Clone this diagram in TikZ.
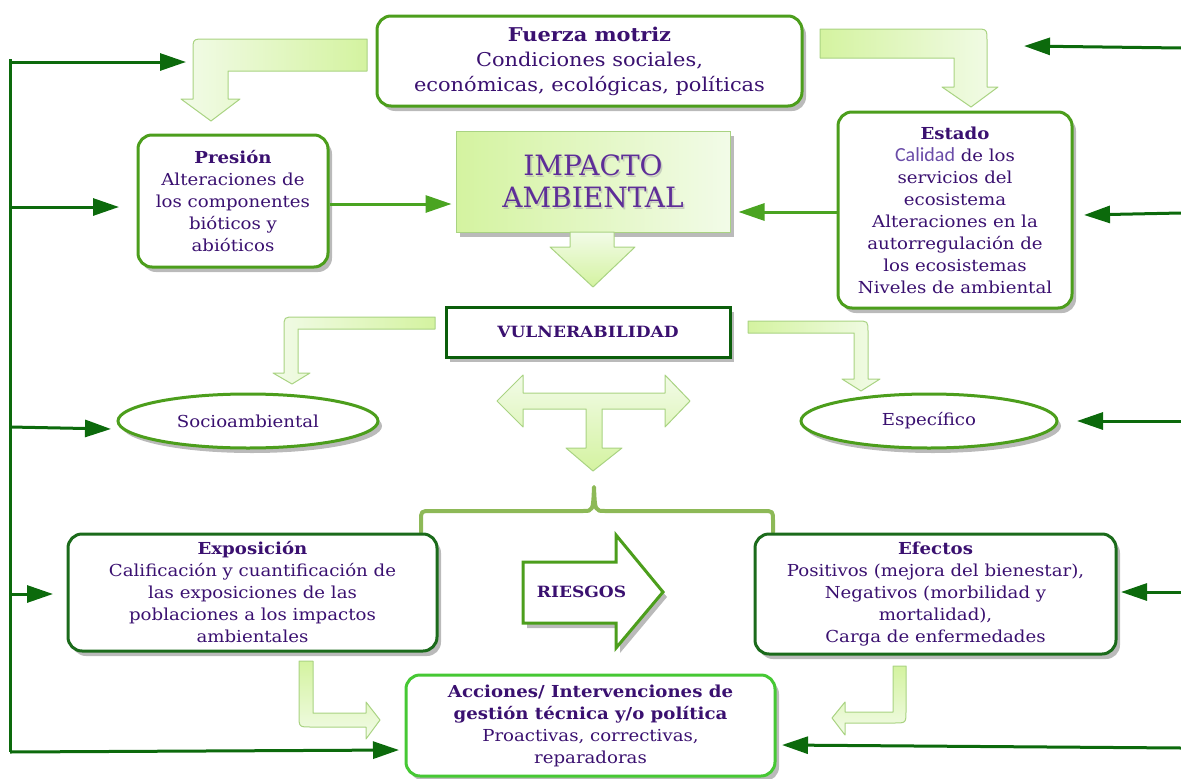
\documentclass[tikz,border=0pt]{standalone}
\usepackage{fontspec}
\setmainfont{DejaVu Serif}[FakeStretch=1.1]
\newfontfamily\impfont{DejaVu Serif}
\newfontfamily\calfont{Carlito}
\usetikzlibrary{arrows.meta,shapes.geometric,shadows,calc}
\definecolor{txt}{HTML}{3A1070}
\definecolor{gmid}{HTML}{4C9E1C}
\definecolor{gdark}{HTML}{1B6B1B}
\definecolor{gvul}{HTML}{0B5E0B}
\definecolor{gbright}{HTML}{46C834}
\definecolor{garr}{HTML}{0C6A0C}
\definecolor{garr2}{HTML}{4AA421}
\definecolor{lgA}{HTML}{D4F3A0}
\definecolor{lgB}{HTML}{F2FBE8}
\definecolor{lgedge}{HTML}{A9D382}
\definecolor{bracec}{HTML}{8DB957}
\definecolor{impt}{HTML}{5E2E98}
\definecolor{calc}{HTML}{6A4CA8}
\begin{document}
\begin{tikzpicture}[x=1pt,y=-1pt,
  shadowed/.style={drop shadow={shadow xshift=4pt,shadow yshift=-5pt,opacity=0.45,fill=black!60}},
  box/.style={draw=gmid,line width=3pt,rounded corners=14pt,fill=white,shadowed,
    align=center,text=txt,inner sep=0pt,font=\fontsize{16.5}{22}\selectfont},
  oval/.style={ellipse,draw=gmid,line width=3pt,fill=white,shadowed,text=txt,inner sep=0pt,
    font=\fontsize{16.5}{20}\selectfont},
  bigarrow/.style={draw=lgedge,line width=1pt,line join=round},
  garrow/.style={draw=garr,line width=3pt,-{Triangle[length=26pt,width=17pt]}},
  garrowB/.style={draw=garr2,line width=3pt,-{Triangle[length=26pt,width=17pt]}},
  gline/.style={draw=garr,line width=3pt},
]
\useasboundingbox (0,0) rectangle (1181,779);

% ---------- top nodes ----------
\node[box,minimum width=425,minimum height=90,font=\fontsize{19}{25}\selectfont] (fuerza) at (589.5,61)
  {\textbf{Fuerza motriz}\\Condiciones sociales,\\económicas, ecológicas, políticas};
\node[box,minimum width=190,minimum height=132] (presion) at (233,201)
  {\textbf{Presión}\\Alteraciones de\\los componentes\\bióticos y\\abióticos};
\node[box,minimum width=234,minimum height=196] (estado) at (955,210)
  {\textbf{Estado}\\{\calfont\fontsize{20}{22}\selectfont\color{calc}Calidad} de los\\servicios del\\ecosistema\\Alteraciones en la\\autorregulación de\\los ecosistemas\\Niveles de ambiental};

% impacto box
\node[draw=lgedge,line width=1pt,left color=lgA,right color=lgB,shadowed,
  minimum width=274,minimum height=101,inner sep=0pt] (impacto) at (593,181.5) {};
\node[text=black!35,opacity=0.5,align=center,font=\impfont\fontsize{28}{32}\selectfont] at ($(impacto)+(1.5,2)$) {IMPACTO\\AMBIENTAL};
\node[text=impt,align=center,font=\impfont\fontsize{28}{32}\selectfont] (imptext) at (impacto) {IMPACTO\\AMBIENTAL};

% down arrow under impacto
\shadedraw[bigarrow,top color=lgB,bottom color=lgA]
  (570,232) -- (614,232) -- (614,247) -- (635,247) -- (593,287) -- (550,247) -- (570,247) -- cycle;

% top bent arrows
\shadedraw[bigarrow,left color=lgB,right color=lgA]
  (367,39) -- (205,39) .. controls (193,39) .. (193,51) -- (193,99) -- (181,99) -- (211,121)
  -- (240,99) -- (228,99) -- (228,71) -- (367,71) -- cycle;
\shadedraw[bigarrow,left color=lgA,right color=lgB]
  (820,29) -- (975,29) .. controls (987,29) .. (987,41) -- (987,87) -- (998,87) -- (971,107)
  -- (942,87) -- (954,87) -- (954,58) -- (820,58) -- cycle;

% ---------- vulnerabilidad ----------
\node[draw=gvul,line width=3pt,fill=white,shadowed,minimum width=284,minimum height=50,inner sep=0pt,
  text=txt,font=\bfseries\fontsize{15.5}{18}\selectfont] (vuln) at (588,332) {VULNERABILIDAD};

\shadedraw[bigarrow,left color=lgB,right color=lgA]
  (435,317) -- (295,317) .. controls (284,317) .. (284,328) -- (284,373) -- (273,373) -- (292,384)
  -- (310,373) -- (298,373) -- (298,329) -- (435,329) -- cycle;
\shadedraw[bigarrow,left color=lgA,right color=lgB]
  (748,321) -- (857,321) .. controls (868,321) .. (868,332) -- (868,379) -- (880,379) -- (861,391)
  -- (842,379) -- (854,379) -- (854,333) -- (748,333) -- cycle;

\node[oval,minimum width=260,minimum height=54] (socio) at (248,421) {Socioambiental};
\node[oval,minimum width=256,minimum height=54] (espec) at (929,421) {Específico};

% T arrow
\shadedraw[bigarrow,top color=lgB,bottom color=lgA]
  (497,401) -- (523,375) -- (523,393) -- (665,393) -- (665,375) -- (690,401) -- (665,427)
  -- (665,409) -- (602,409) -- (602,448) -- (622,448) -- (593,471) -- (566,448) -- (586,448)
  -- (586,409) -- (523,409) -- (523,427) -- cycle;

% brace
\draw[bracec,line width=4pt,line cap=round,line join=round]
  (421,532) -- (421,521) .. controls (421,511) .. (431,511) -- (583,511)
  .. controls (593,511) .. (594,487) .. controls (595,511) .. (605,511)
  -- (763,511) .. controls (773,511) .. (773,521) -- (773,532);

% ---------- bottom nodes ----------
\node[box,draw=gdark,minimum width=369,minimum height=117] (expo) at (252.5,592.5)
  {\textbf{Exposición}\\Calificación y cuantificación de\\las exposiciones de las\\poblaciones a los impactos\\ambientales};
\node[box,draw=gdark,minimum width=361,minimum height=120] (efectos) at (935.5,594)
  {\textbf{Efectos}\\Positivos (mejora del bienestar),\\Negativos (morbilidad y\\mortalidad),\\Carga de enfermedades};
\node[box,draw=gbright,minimum width=369,minimum height=101] (acciones) at (590.5,725.5)
  {\textbf{Acciones/ Intervenciones de}\\\textbf{gestión técnica y/o política}\\Proactivas, correctivas,\\reparadoras};

% riesgos arrow
\path[draw=gmid,line width=3pt,fill=white,shadowed,line join=miter]
  (523,562) -- (616,562) -- (616,535) -- (663,592) -- (616,648) -- (616,623) -- (523,623) -- cycle;
\node[text=txt,font=\bfseries\fontsize{15.5}{18}\selectfont] (riesgos) at (581.5,592) {RIESGOS};

% bottom bent arrows
\shadedraw[bigarrow,top color=lgA,bottom color=lgB]
  (299,661) -- (313,661) -- (313,713) -- (366,713) -- (366,702) -- (380,720) -- (366,739)
  -- (366,727) -- (311,727) .. controls (299,727) .. (299,715) -- cycle;
\shadedraw[bigarrow,top color=lgA,bottom color=lgB]
  (893,666) -- (906,666) -- (906,711) .. controls (906,723) .. (894,723) -- (845,723)
  -- (845,735) -- (832,718) -- (845,702) -- (845,712) -- (893,712) -- cycle;

% ---------- connectors ----------
\draw[garrowB] (presion.east |- 0,204) -- ($(impacto.west |- 0,204)+(-4,0)$);
\draw[garrowB] (estado.west |- 0,212) -- ($(impacto.east |- 0,212)+(8,0)$);

% left feedback line
\coordinate (Ltop) at (10,59);
\coordinate (Lbot) at (10,752);
\coordinate (L1) at (10,62);   \coordinate (E1) at (186,62);
\coordinate (L2) at (10,207);  \coordinate (E2) at (119,207);
\coordinate (L3) at (10,427);  \coordinate (E3) at (111,429);
\coordinate (L4) at (10,594);  \coordinate (E4) at (53,594);
\coordinate (E5) at (399,750);
\draw[gline] (Ltop) -- (Lbot);
\draw[garrow] (L1) -- (E1);
\draw[garrow] (L2) -- (E2);
\draw[garrow] (L3) -- (E3);
\draw[garrow] (L4) -- (E4);
\draw[garrow] (Lbot) -- (E5);

% right incoming lines
\coordinate (R1) at (1181,48);  \coordinate (F1) at (1024,46);
\coordinate (R2) at (1181,213); \coordinate (F2) at (1084,215);
\coordinate (R3) at (1181,421); \coordinate (F3) at (1077,421);
\coordinate (R4) at (1181,592); \coordinate (F4) at (1121,592);
\coordinate (R5) at (1181,748); \coordinate (F5) at (782,745);
\draw[garrow] (R1) -- (F1);
\draw[garrow] (R2) -- (F2);
\draw[garrow] (R3) -- (F3);
\draw[garrow] (R4) -- (F4);
\draw[garrow] (R5) -- (F5);
\end{tikzpicture}
\end{document}
